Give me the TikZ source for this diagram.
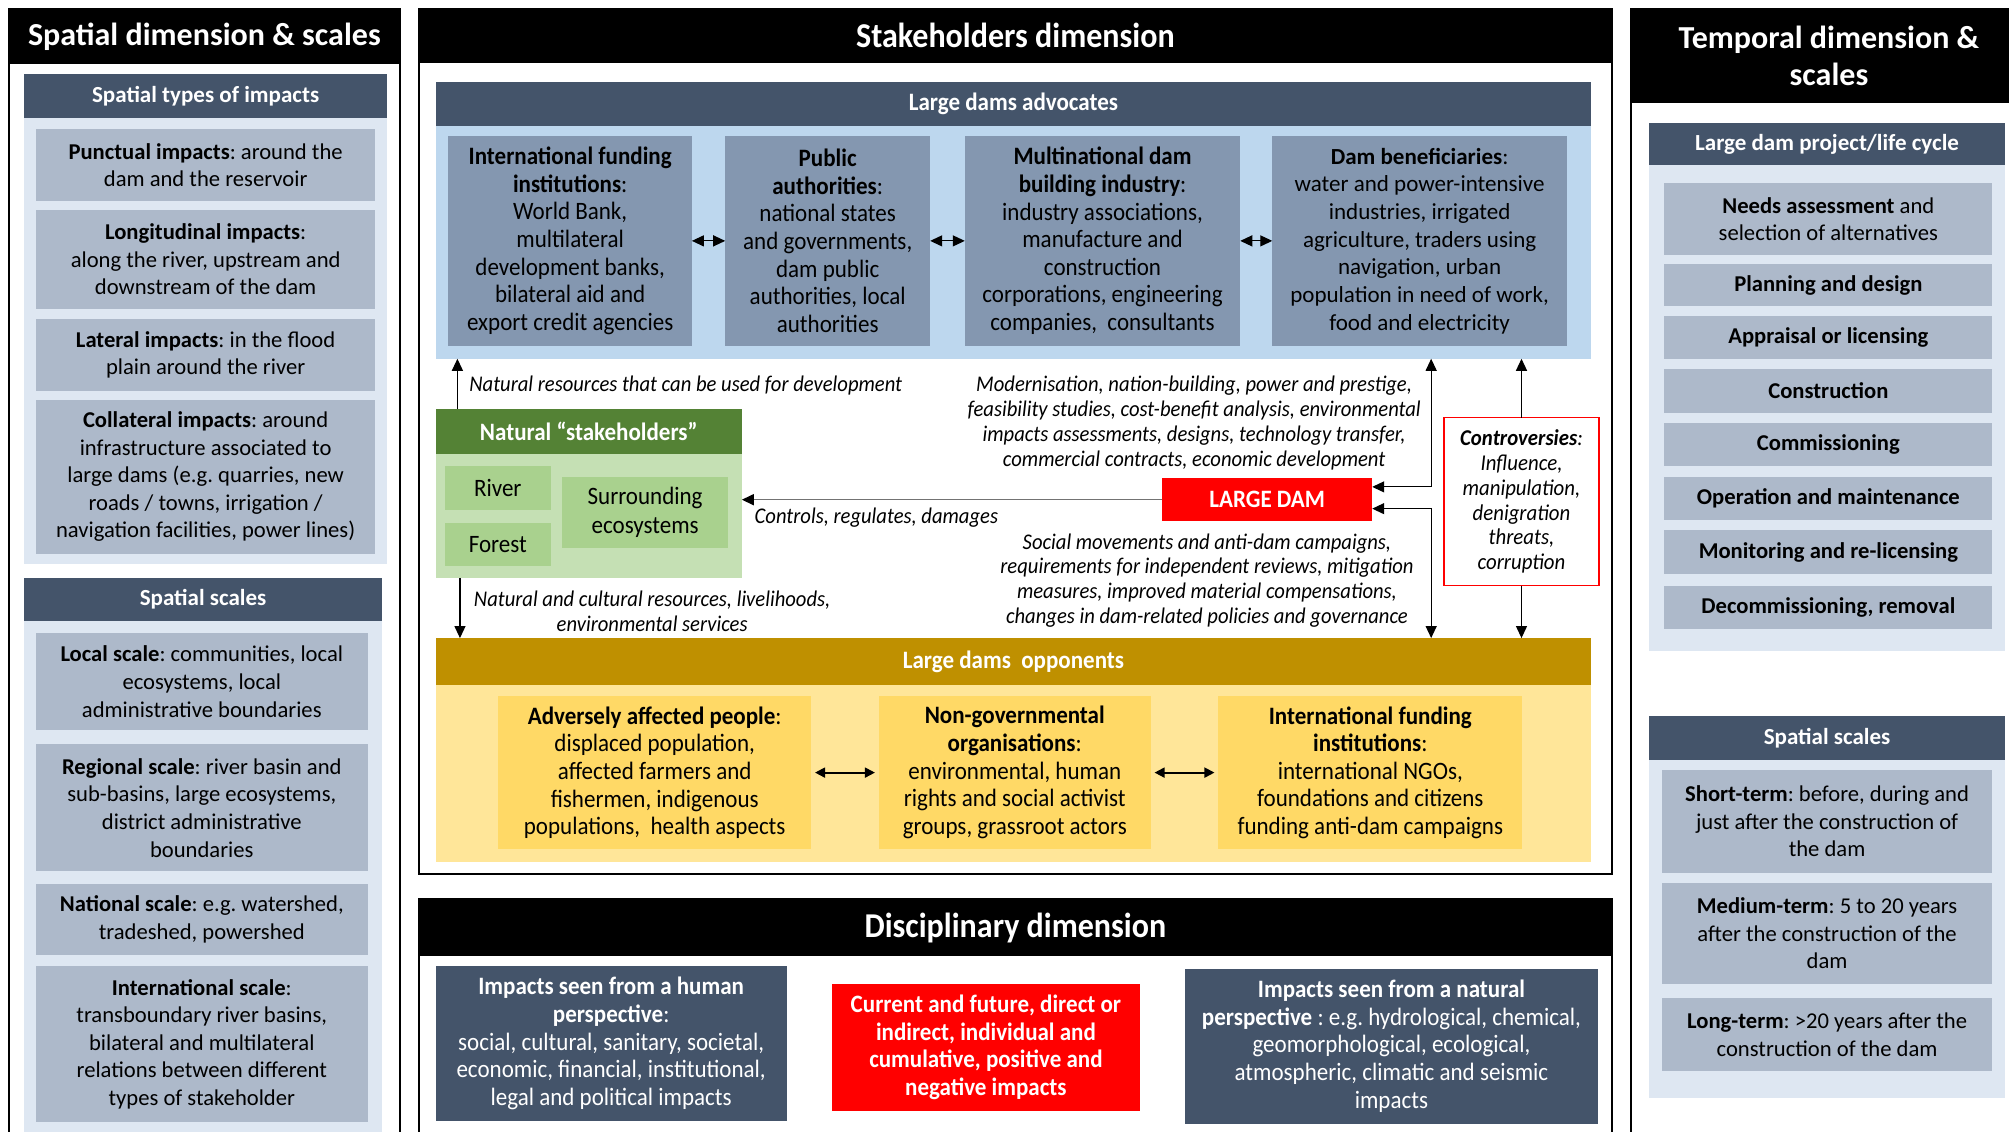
\documentclass[tikz,border=0pt]{standalone}
\usepackage{fontspec}
\setmainfont{Carlito}
\newfontfamily\cond{Carlito}[FakeStretch=0.92]
\usetikzlibrary{arrows.meta,calc}
\frenchspacing
\definecolor{slate}{HTML}{44546A}
\definecolor{itemgray}{HTML}{ADB9CA}
\definecolor{panelblue}{HTML}{DEE7F2}
\definecolor{advpanel}{HTML}{BDD7EE}
\definecolor{advbox}{HTML}{8497B0}
\definecolor{natgreen}{HTML}{548235}
\definecolor{natlight}{HTML}{C5E0B4}
\definecolor{natbox}{HTML}{A9D18E}
\definecolor{oppgold}{HTML}{BF9000}
\definecolor{opplight}{HTML}{FFE699}
\definecolor{oppbox}{HTML}{FFD966}
\definecolor{damred}{HTML}{FF0000}
\tikzset{
  rect/.style args={#1/#2/#3/#4}{minimum width={(#3-#1)*0.64pt}, minimum height={(#4-#2)*0.64pt}, at={({(#1+#3)/2},{(#2+#4)/2})}},
  fitbox/.style={inner sep=0pt, outer sep=0pt, align=center},
  panelframe/.style={fitbox, draw=black, line width=1.2pt, fill=white},
  blackhead/.style={fitbox, fill=black, text=white, font=\fontsize{16}{18.6}\selectfont\bfseries},
  condhead/.style={fitbox, fill=black, text=white, font=\cond\fontsize{17.4}{20}\selectfont\bfseries},
  secthead/.style={fitbox, fill=slate, text=white, font=\fontsize{11.5}{13.8}\selectfont\bfseries},
  condsect/.style={fitbox, text=white, font=\cond\fontsize{12.5}{14}\selectfont\bfseries},
  lightpanel/.style={fitbox, fill=panelblue},
  itembox/.style={fitbox, fill=itemgray, font=\fontsize{11.3}{13.8}\selectfont},
  advitem/.style={fitbox, fill=advbox, font=\cond\fontsize{12.5}{13.8}\selectfont},
  advitemn/.style={fitbox, fill=advbox, font=\fontsize{11.5}{13.8}\selectfont},
  natitem/.style={fitbox, fill=natbox, font=\cond\fontsize{12.5}{14.2}\selectfont},
  oppitem/.style={fitbox, fill=oppbox, font=\cond\fontsize{12.5}{13.8}\selectfont},
  discitem/.style={fitbox, fill=slate, text=white, font=\cond\fontsize{12.5}{13.8}\selectfont},
  itx/.style={inner sep=0pt, align=center, font=\cond\itshape\fontsize{11.2}{12.4}\selectfont},
  arr/.style={-{Triangle[width=5.5pt,length=6pt]}, line width=0.6pt},
  dbl/.style={{Triangle[width=5.5pt,length=6pt]}-{Triangle[width=5.5pt,length=6pt]}, line width=0.6pt},
  dbltwo/.style={{Triangle[width=5pt,length=5pt]}-{Triangle[width=5pt,length=5pt]}, line width=0.9pt, shorten <=2pt, shorten >=2pt},
  ctrl/.style={-{Triangle[width=5.5pt,length=6pt,color=black]}, line width=0.8pt, draw=black!55}
}
\begin{document}
\begin{tikzpicture}[x=0.64pt,y=-0.64pt]
\useasboundingbox (0,0) rectangle (1568,883);
\clip (0,0) rectangle (1568,883);
\fill[white] (0,0) rectangle (1568,883);

% ---------------- Left panel ----------------
\node[panelframe, rect=7/7/312/900] (lframe) {};
\node[blackhead, rect=7/7/312/50] (lhead) {Spatial dimension \& scales};
\node[lightpanel, rect=19/58/302/440] (ltypes) {};
\node[secthead, rect=19/58/302/92] (ltypesh) {Spatial types of impacts};
\node[itembox, rect=28/101/293/157] (l1) {\textbf{Punctual impacts}: around the\\dam and the reservoir};
\node[itembox, rect=28/164/293/241] (l2) {\textbf{Longitudinal impacts}:\\along the river, upstream and\\downstream of the dam};
\node[itembox, rect=28/249/293/305] (l3) {\textbf{Lateral impacts}: in the flood\\plain around the river};
\node[itembox, rect=28/312/293/432] (l4) {\textbf{Collateral impacts}: around\\infrastructure associated to\\large dams (e.g. quarries, new\\roads / towns, irrigation /\\navigation facilities, power lines)};

\node[lightpanel, rect=19/451/298/900] (lsc) {};
\node[secthead, rect=19/451/298/485] (lsch) {Spatial scales};
\node[itembox, rect=28/494/287/570] (s1) {\textbf{Local scale}: communities, local\\ecosystems, local\\administrative boundaries};
\node[itembox, rect=28/581/287/680] (s2) {\textbf{Regional scale}: river basin and\\sub-basins, large ecosystems,\\district administrative\\boundaries};
\node[itembox, rect=28/690/287/745] (s3) {\textbf{National scale}: e.g. watershed,\\tradeshed, powershed};
\node[itembox, rect=28/754/287/876] (s4) {\textbf{International scale}:\\transboundary river basins,\\bilateral and multilateral\\relations between different\\types of stakeholder};

% ---------------- Right panel ----------------
\node[panelframe, rect=1273/7/1582/900] (rframe) {};
\node[blackhead, rect=1273/7/1582/80] (rhead) {Temporal dimension \&\\scales};
\node[lightpanel, rect=1287/96/1565/508] (lc) {};
\node[secthead, rect=1287/96/1565/129] (lch) {Large dam project/life cycle};
\node[itembox, rect=1299/143/1555/199] (c1) {\textbf{Needs assessment} and\\selection of alternatives};
\node[itembox, rect=1299/206/1555/239] (c2) {\textbf{Planning and design}};
\node[itembox, rect=1299/247/1555/280] (c3) {\textbf{Appraisal or licensing}};
\node[itembox, rect=1299/288/1555/322] (c4) {\textbf{Construction}};
\node[itembox, rect=1299/330/1555/364] (c5) {\textbf{Commissioning}};
\node[itembox, rect=1299/372/1555/406] (c6) {\textbf{Operation and maintenance}};
\node[itembox, rect=1299/414/1555/448] (c7) {\textbf{Monitoring and re-licensing}};
\node[itembox, rect=1299/457/1555/491] (c8) {\textbf{Decommissioning, removal}};

\node[lightpanel, rect=1287/559/1565/857] (ts) {};
\node[secthead, rect=1287/559/1565/593] (tsh) {Spatial scales};
\node[itembox, rect=1297/601/1555/681] (u1) {\textbf{Short-term}: before, during and\\just after the construction of\\the dam};
\node[itembox, rect=1297/689/1555/768] (u2) {\textbf{Medium-term}: 5 to 20 years\\after the construction of the\\dam};
\node[itembox, rect=1297/779/1555/836] (u3) {\textbf{Long-term}: >20 years after the\\construction of the dam};

% ---------------- Stakeholders panel ----------------
\node[panelframe, rect=327/7/1258/682] (mframe) {};
\node[condhead, rect=327/7/1258/49] (mhead) {Stakeholders dimension};

\node[fitbox, fill=advpanel, rect=340/64/1242/280] (advp) {};
\node[condsect, fill=slate, rect=340/64/1242/98] (advh) {Large dams advocates};
\node[advitem, rect=350/106/540/270] (a1) {\textbf{International funding}\\\textbf{institutions}:\\World Bank,\\multilateral\\development banks,\\bilateral aid and\\export credit agencies};
\node[advitem, rect=566/106/726/270] (a2) {\textbf{Public}\\\textbf{authorities}:\\national states\\and governments,\\dam public\\authorities, local\\authorities};
\node[advitem, rect=753/106/968/270] (a3) {\textbf{Multinational dam}\\\textbf{building industry}:\\industry associations,\\manufacture and\\construction\\corporations, engineering\\companies,\ \ consultants};
\node[advitemn, rect=993/106/1223/270] (a4) {\textbf{Dam beneficiaries}:\\water and power-intensive\\industries, irrigated\\agriculture, traders using\\navigation, urban\\population in need of work,\\food and electricity};
\draw[dbl] (a1.east) -- (a2.west);
\draw[dbl] (a2.east) -- (a3.west);
\draw[dbl] (a3.east) -- (a4.west);

\node[fitbox, fill=natlight, rect=340/319/579/451] (natall) {};
\node[condsect, fill=natgreen, rect=340/319/579/354] (nath) {Natural “stakeholders”};
\node[natitem, rect=347/364/430/398] (river) {River};
\node[natitem, rect=347/408/430/442] (forest) {Forest};
\node[natitem, rect=439/372/568/428] (surr) {Surrounding\\ecosystems};

\node[fitbox, fill=damred, text=white, font=\cond\fontsize{12.5}{14}\selectfont\bfseries, rect=907/373/1071/407] (dam) {LARGE DAM};

\node[fitbox, draw=damred, line width=0.8pt, fill=white, font=\cond\itshape\fontsize{11.3}{12.4}\selectfont, rect=1127/326/1248/457] (contr) {\textbf{Controversies}:\\Influence,\\manipulation,\\denigration\\threats,\\corruption};

\node[fitbox, fill=opplight, rect=340/498/1242/673] (opp) {};
\node[condsect, fill=oppgold, rect=340/498/1242/535] (opph) {Large dams\ \ opponents};
\node[oppitem, rect=389/543/633/663] (o1) {\textbf{Adversely affected people}:\\displaced population,\\affected farmers and\\fishermen, indigenous\\populations,\ \ health aspects};
\node[oppitem, rect=686/543/898/663] (o2) {\textbf{Non-governmental}\\\textbf{organisations}:\\environmental, human\\rights and social activist\\groups, grassroot actors};
\node[oppitem, rect=951/543/1188/663] (o3) {\textbf{International funding}\\\textbf{institutions}:\\international NGOs,\\foundations and citizens\\funding anti-dam campaigns};
\draw[dbltwo] (o1.east) -- (o2.west);
\draw[dbltwo] (o2.east) -- (o3.west);

% italic labels
\node[itx, anchor=west] (tnr) at (366,301) {Natural resources that can be used for development};
\node[itx] (tmod) at (932,330) {Modernisation, nation-building, power and prestige,\\feasibility studies, cost-benefit analysis, environmental\\impacts assessments, designs, technology transfer,\\commercial contracts, economic development};
\node[itx] (tctrl) at (684,404) {Controls, regulates, damages};
\node[itx] (tncr) at (509,477) {Natural and cultural resources, livelihoods,\\environmental services};
\node[itx] (tsoc) at (942,453) {Social movements and anti-dam campaigns,\\requirements for independent reviews, mitigation\\measures, improved material compensations,\\changes in dam-related policies and governance};

% connectors
\coordinate (nrx) at ($(natall.north west)+(17,0)$);
\draw[arr] (nrx) -- (nrx |- advp.south);
\coordinate (ncx) at ($(natall.south west)+(19,0)$);
\draw[arr] (ncx) -- (ncx |- opp.north);
\draw[ctrl] (dam.west) -- (dam.west -| natall.east);
\coordinate (vx) at ($(dam.east)+(46,0)$);
\draw[dbl] ($(dam.east)+(0,-10)$) -| (vx |- advp.south);
\draw[dbl] ($(dam.east)+(0,7)$) -| (vx |- opp.north);
\draw[arr] (contr.north) -- (contr.north |- advp.south);
\draw[arr] (contr.south) -- (contr.south |- opp.north);

% ---------------- Disciplinary panel ----------------
\node[panelframe, rect=327/702/1258/900] (dframe) {};
\node[condhead, rect=327/702/1258/746] (dhead) {Disciplinary dimension};
\node[discitem, rect=340/754/614/875] (d1) {\textbf{Impacts seen from a human}\\\textbf{perspective}:\\social, cultural, sanitary, societal,\\economic, financial, institutional,\\legal and political impacts};
\node[discitem, fill=damred, font=\cond\fontsize{12.5}{13.8}\selectfont\bfseries, rect=649/768/890/867] (d2) {Current and future, direct or\\indirect, individual and\\cumulative, positive and\\negative impacts};
\node[discitem, rect=925/756/1247/877] (d3) {\textbf{Impacts seen from a natural}\\\textbf{perspective} : e.g. hydrological, chemical,\\geomorphological, ecological,\\atmospheric, climatic and seismic\\impacts};
\end{tikzpicture}
\end{document}
